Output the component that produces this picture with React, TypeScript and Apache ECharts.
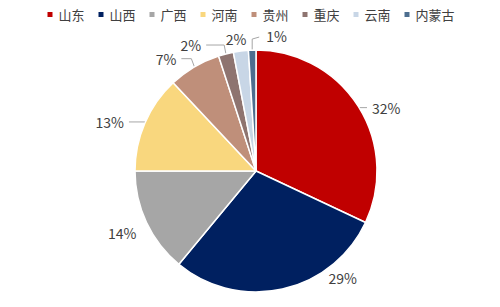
import React, { useEffect, useRef } from "react";
import * as echarts from "echarts";

const categories = ["山东", "山西", "广西", "河南", "贵州", "重庆", "云南", "内蒙古"];
const shares = [32, 29, 14, 13, 7, 2, 2, 1];
const colors = ["#C00000", "#002060", "#A6A6A6", "#F9D77E", "#BF8F7A", "#8E7470", "#C8D6E6", "#4D6E8F"];

// label-line styling per slice: [length, length2, show]
const lineCfg: [number, number, boolean][] = [
  [1, 8, true],
  [0, 0, false],
  [0, 5, false],
  [0, 16, true],
  [6, 10, true],
  [7, 18, true],
  [12, 0, false],
  [0, 0, true],
];
// extra nudges (dx, dy) of labels relative to their default spot
const labelNudge: [number, number][] = [
  [0, 2],
  [41, -11],
  [0, 10],
  [0, -1],
  [0, -3],
  [0, -2],
  [12, 0],
  [0, 0],
];

export default function App() {
  const ref = useRef<HTMLDivElement>(null);
  useEffect(() => {
    document.body.style.margin = "0";
    const chart = echarts.init(ref.current!, null, { renderer: "svg" });
    chart.setOption({
      animation: false,
      backgroundColor: "#ffffff",
      color: colors,
      legend: {
        top: 3,
        left: "center",
        itemWidth: 7,
        itemHeight: 7,
        icon: "rect",
        itemGap: 12,
        textStyle: { fontFamily: "Noto Sans CJK SC", fontSize: 13, color: "#404040" },
        data: categories,
      },
      series: [
        {
          type: "pie",
          center: [256, 171],
          radius: [0, 121],
          startAngle: 90,
          clockwise: true,
          avoidLabelOverlap: false,
          itemStyle: { borderColor: "#ffffff", borderWidth: 1.5 },
          label: {
            show: true,
            position: "outside",
            formatter: "{d}%",
            fontFamily: "Noto Sans CJK SC",
            fontSize: 14,
            color: "#404040",
          },
          labelLine: {
            show: true,
            lineStyle: { color: "#A6A6A6", width: 1 },
          },
          labelLayout: (p: any) => {
            const i = p.dataIndex;
            const r = p.labelRect;
            if (i === 7 && p.labelLinePoints) {
              const p0 = p.labelLinePoints[0];
              return {
                x: p0[0] + 14,
                y: p0[1] - 14,
                align: "left",
                verticalAlign: "middle",
                labelLinePoints: [
                  [p0[0], p0[1]],
                  [p0[0], p0[1] - 11],
                  [p0[0] + 7, p0[1] - 13],
                ],
              };
            }
            const n = labelNudge[i];
            if (!n || (n[0] === 0 && n[1] === 0)) return {};
            if (lineCfg[i][2]) {
              const pts = p.labelLinePoints;
              return {
                x: r.x + n[0],
                y: r.y + r.height / 2 + n[1],
                align: "left",
                verticalAlign: "middle",
                labelLinePoints: pts
                  ? pts.map((q: number[], k: number) => (k === 0 ? q : [q[0] + n[0], q[1] + n[1]]))
                  : undefined,
              };
            }
            return {
              x: r.x + n[0],
              y: r.y + r.height / 2 + n[1],
              align: "left",
              verticalAlign: "middle",
            };
          },
          data: categories.map((name, i) => ({
            name,
            value: shares[i],
            labelLine: { show: lineCfg[i][2], length: lineCfg[i][0], length2: lineCfg[i][1] },
          })),
        },
      ],
    });
    return () => chart.dispose();
  }, []);
  return <div ref={ref} style={{ width: 500, height: 307, position: "absolute", left: 0, top: 0 }} />;
}
